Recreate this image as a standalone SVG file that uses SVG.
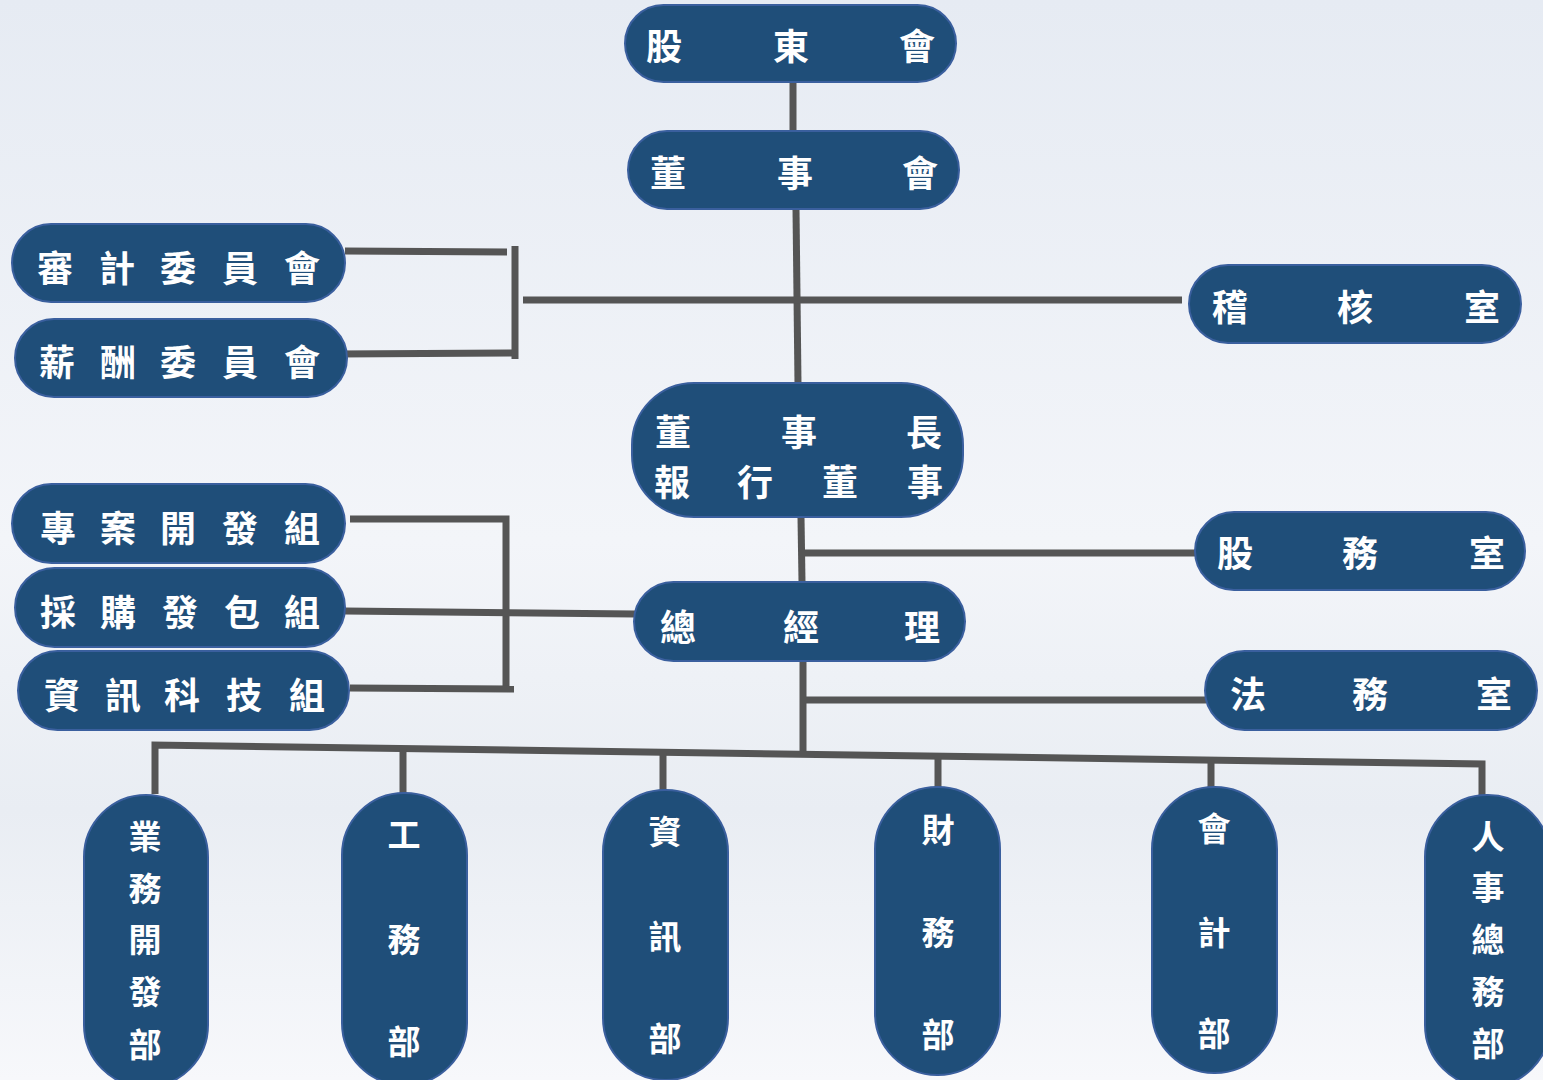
<svg xmlns="http://www.w3.org/2000/svg" width="1543" height="1080" viewBox="0 0 1543 1080">
<defs>
<linearGradient id="bg" x1="0" y1="0" x2="0" y2="1">
<stop offset="0" stop-color="#e6ebf3"/>
<stop offset="0.5" stop-color="#f3f5f9"/>
<stop offset="0.75" stop-color="#e9edf3"/>
<stop offset="1" stop-color="#f7f8fb"/>
</linearGradient>
<style>
.n{fill:#1f4e79;stroke:#3a5f9e;stroke-width:2}
.t{fill:#ffffff;font-family:"Noto Sans CJK TC","Noto Sans CJK SC",sans-serif;font-weight:bold;font-size:36px;text-anchor:middle;dominant-baseline:central}
.v{font-size:33px}
.c{fill:none;stroke:#555555;stroke-width:7}
</style>
</defs>
<rect width="1543" height="1080" fill="url(#bg)"/>
<g id="connectors">
<line class="c" x1="793" y1="82" x2="793" y2="131"/>
<line class="c" x1="796" y1="209" x2="798" y2="384"/>
<line class="c" x1="523" y1="300" x2="1182" y2="300"/>
<line class="c" x1="345" y1="251" x2="507" y2="252"/>
<line class="c" x1="337" y1="354" x2="515" y2="353"/>
<line class="c" x1="515" y1="246" x2="515" y2="359"/>
<line class="c" x1="801" y1="517" x2="802" y2="582"/>
<line class="c" x1="805" y1="553" x2="1195" y2="553"/>
<line class="c" x1="803" y1="661" x2="803" y2="752"/>
<line class="c" x1="805" y1="700" x2="1206" y2="700"/>
<polyline class="c" points="350,519 506,519 506,688"/>
<line class="c" x1="350" y1="688" x2="514" y2="689"/>
<line class="c" x1="345" y1="611" x2="635" y2="614"/>
<polyline class="c" points="155,794 155,745 1482,764 1482,796"/>
<line class="c" x1="403" y1="749" x2="403" y2="793"/>
<line class="c" x1="663" y1="753" x2="663" y2="790"/>
<line class="c" x1="938" y1="757" x2="938" y2="788"/>
<line class="c" x1="1211" y1="761" x2="1211" y2="787"/>
</g>
<g id="n-gudonghui"><rect class="n" x="625" y="5" width="331" height="77" rx="38.5"/><text class="t" x="664 791 917" y="44">股東會</text></g>
<g id="n-dongshihui"><rect class="n" x="628" y="131" width="331" height="78" rx="39"/><text class="t" x="668 795 920" y="171">董事會</text></g>
<g id="n-shenji"><rect class="n" x="12" y="224" width="333" height="78" rx="39"/><text class="t" x="55 117 178 240 302" y="266">審計委員會</text></g>
<g id="n-xinchou"><rect class="n" x="15" y="319" width="332" height="78" rx="39"/><text class="t" x="57 118 178 240 302" y="360">薪酬委員會</text></g>
<g id="n-jihe"><rect class="n" x="1189" y="265" width="332" height="78" rx="39"/><text class="t" x="1230 1355 1482" y="305">稽核室</text></g>
<g id="n-dongshizhang"><rect class="n" x="632" y="383" width="331" height="134" rx="62"/><text class="t" x="673 799 924" y="430">董事長</text><text class="t" x="672 755 840 925" y="480">報行董事</text></g>
<g id="n-guwu"><rect class="n" x="1195" y="512" width="330" height="78" rx="39"/><text class="t" x="1235 1360 1487" y="551">股務室</text></g>
<g id="n-zongjingli"><rect class="n" x="634" y="582" width="331" height="79" rx="39.5"/><text class="t" x="678 801 922" y="625">總經理</text></g>
<g id="n-zhuanan"><rect class="n" x="12" y="484" width="333" height="79" rx="39.5"/><text class="t" x="58 118 178 240 302" y="526">專案開發組</text></g>
<g id="n-caigou"><rect class="n" x="15" y="568" width="330" height="79" rx="39.5"/><text class="t" x="58 118 180 242 302" y="610">採購發包組</text></g>
<g id="n-zixunkeji"><rect class="n" x="18" y="651" width="331" height="79" rx="39.5"/><text class="t" x="62 123 182 244 307" y="693">資訊科技組</text></g>
<g id="n-fawu"><rect class="n" x="1205" y="651" width="332" height="79" rx="39.5"/><text class="t" x="1248 1370 1494" y="692">法務室</text></g>
<g id="n-yewu"><rect class="n" x="84" y="795" width="124" height="292" rx="62"/><text class="t v" x="145" y="835">業</text><text class="t v" x="145" y="887">務</text><text class="t v" x="145" y="938">開</text><text class="t v" x="145" y="990">發</text><text class="t v" x="145" y="1043">部</text></g>
<g id="n-gongwu"><rect class="n" x="342" y="793" width="125" height="292" rx="62"/><text class="t v" x="404" y="833">工</text><text class="t v" x="404" y="938">務</text><text class="t v" x="404" y="1040">部</text></g>
<g id="n-zixun"><rect class="n" x="603" y="790" width="125" height="290" rx="62"/><text class="t v" x="665" y="830">資</text><text class="t v" x="665" y="935">訊</text><text class="t v" x="665" y="1037">部</text></g>
<g id="n-caiwu"><rect class="n" x="875" y="787" width="125" height="288" rx="62"/><text class="t v" x="938" y="828">財</text><text class="t v" x="938" y="931">務</text><text class="t v" x="938" y="1033">部</text></g>
<g id="n-kuaiji"><rect class="n" x="1152" y="787" width="125" height="286" rx="62"/><text class="t v" x="1214" y="827">會</text><text class="t v" x="1214" y="931">計</text><text class="t v" x="1214" y="1032">部</text></g>
<g id="n-renshi"><rect class="n" x="1425" y="795" width="125" height="292" rx="62"/><text class="t v" x="1488" y="835">人</text><text class="t v" x="1488" y="886">事</text><text class="t v" x="1488" y="938">總</text><text class="t v" x="1488" y="990">務</text><text class="t v" x="1488" y="1042">部</text></g>
</svg>
